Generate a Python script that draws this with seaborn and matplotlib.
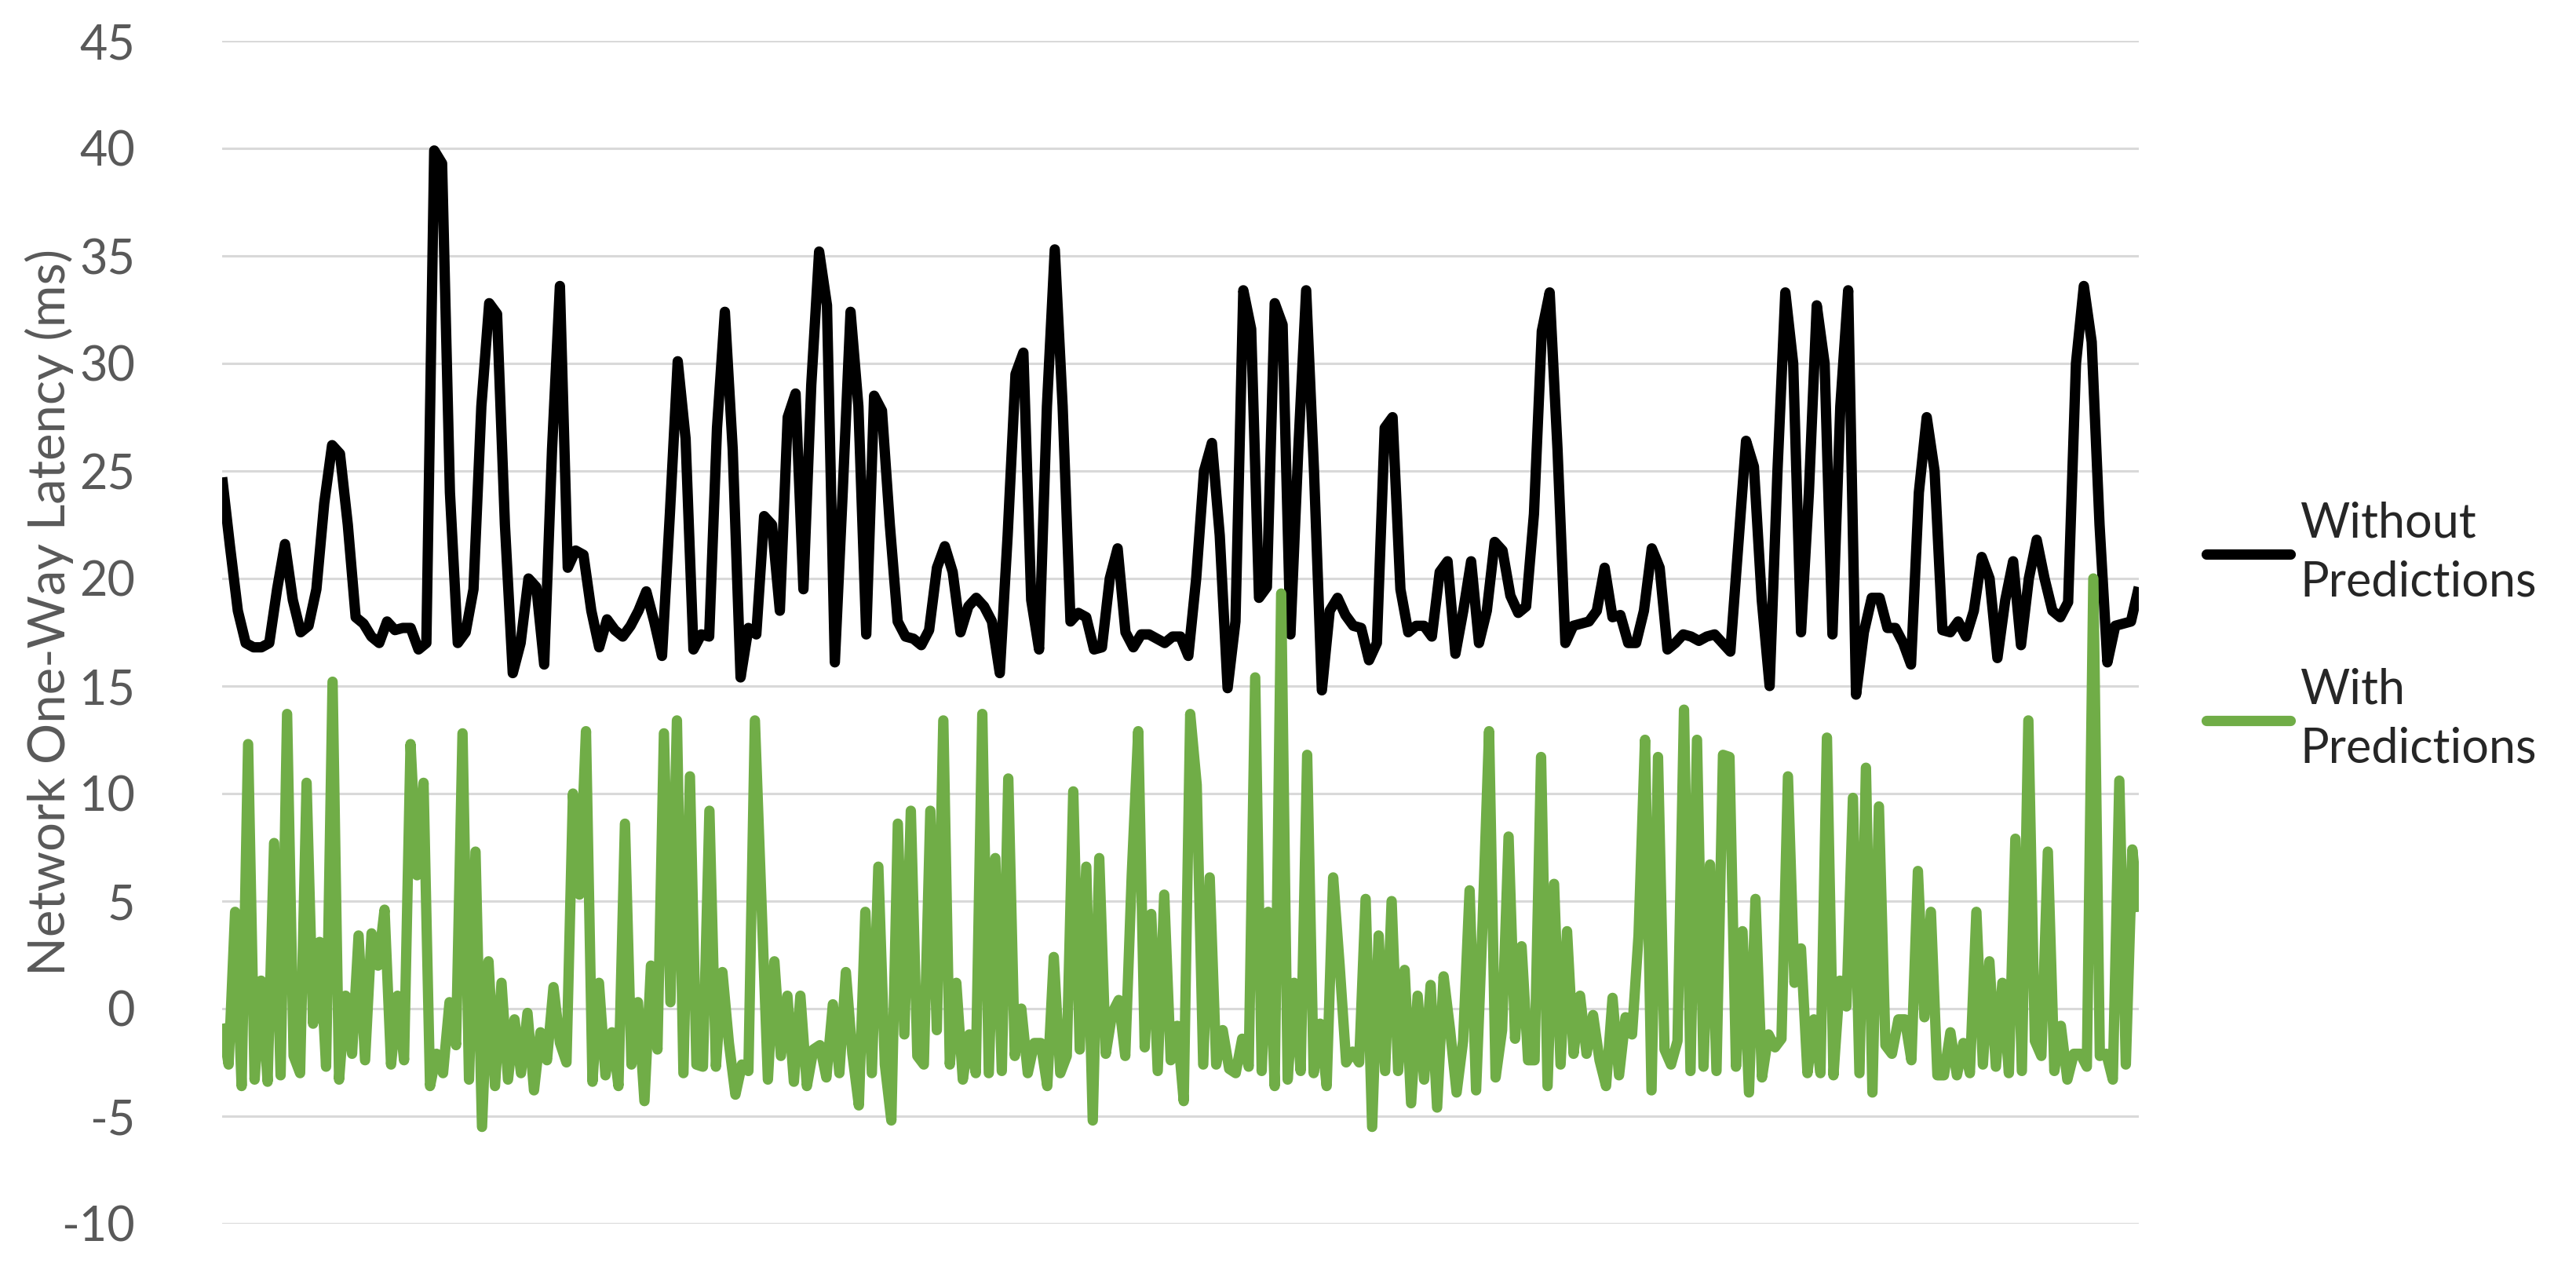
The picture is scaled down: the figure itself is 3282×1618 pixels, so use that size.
import numpy as np
import pandas as pd
import seaborn as sns
import matplotlib.pyplot as plt
from matplotlib.lines import Line2D

# Latency without predictions (ms), read left to right off the chart
without_pred = [
    24.7, 21.5, 18.5, 17.0, 16.8, 16.8, 17.0, 19.5, 21.6, 19.0, 17.5, 17.8, 19.5, 23.5, 26.2, 25.8, 22.5, 18.2, 17.9, 17.3,
    17.0, 18.0, 17.6, 17.7, 17.7, 16.7, 17.0, 39.9, 39.3, 24.0, 17.0, 17.5, 19.5, 28.0, 32.8, 32.3, 22.5, 15.6, 17.0, 20.0,
    19.6,
    16.0, 26.0, 33.6, 20.5, 21.3, 21.1, 18.5, 16.8, 18.1, 17.6, 17.3, 17.8, 18.5, 19.4, 18.0, 16.4, 23.0, 30.1, 26.5, 16.7,
    17.4, 17.3, 27.0, 32.4, 26.0, 15.4, 17.7, 17.4, 22.9, 22.5, 18.5, 27.5, 28.6, 19.5, 29.0, 35.2, 32.7, 16.1, 24.0, 32.4,
    28.0,
    17.4, 28.5, 27.8, 22.5, 18.0, 17.3, 17.2, 16.9, 17.6, 20.5, 21.5, 20.3, 17.5, 18.7, 19.1, 18.7, 18.0, 15.6, 22.0, 29.5,
    30.5, 19.0, 16.7, 28.0, 35.3, 28.0, 18.0, 18.4, 18.2, 16.7, 16.8, 20.0, 21.4, 17.5, 16.8, 17.4, 17.4, 17.2, 17.0, 17.3,
    17.3,
    16.4, 20.0, 25.0, 26.3, 22.0, 14.9, 18.0, 33.4, 31.6, 19.1, 19.6, 32.8, 31.8, 17.4, 26.0, 33.4, 25.0, 14.8, 18.5, 19.1,
    18.3, 17.8, 17.7, 16.2, 17.0, 27.0, 27.5, 19.5, 17.5, 17.8, 17.8, 17.3, 20.3, 20.8, 16.5, 18.5, 20.8, 17.0, 18.5, 21.7,
    21.3,
    19.2, 18.4, 18.7, 23.0, 31.5, 33.3, 26.0, 17.0, 17.8, 17.9, 18.0, 18.5, 20.5, 18.2, 18.3, 17.0, 17.0, 18.5, 21.4, 20.5,
    16.7, 17.0, 17.4, 17.3, 17.1, 17.3, 17.4, 17.0, 16.6, 21.5, 26.4, 25.2, 19.0, 15.0, 25.0, 33.3, 30.0, 17.5, 24.0, 32.7,
    30.0,
    17.4, 28.0, 33.4, 14.6, 17.5, 19.1, 19.1, 17.7, 17.7, 17.0, 16.0, 24.0, 27.5, 25.0, 17.6, 17.5, 18.0, 17.3, 18.5, 21.0,
    20.0, 16.3, 19.0, 20.8, 16.9, 20.0, 21.8, 20.0, 18.5, 18.2, 18.9, 30.0, 33.6, 31.0, 22.5, 16.1, 17.8, 17.9, 18.0, 19.6,
]

# Latency with predictions (ms)
with_pred = [
    -0.7, -2.6, 4.5, -3.6, 12.3, -3.3, 1.3, -3.4, 7.7, -3.1, 13.7, -2.2, -3.0, 10.5, -0.7, 3.1, -2.7, 15.2, -3.3, 0.6,
    -2.1, 3.4, -2.4, 3.5, 2.0, 4.6, -2.6, 0.6, -2.4, 12.3, 6.2, 10.5, -3.6, -2.1, -3.0, 0.3, -1.7, 12.8, -3.3, 7.3,
    -5.5, 2.2, -3.6, 1.2, -3.3, -0.5, -3.0, -0.2, -3.8, -1.1, -2.4,
    1.0, -1.6, -2.5, 10.0, 5.3, 12.9, -3.4, 1.2, -3.1, -1.1, -3.6, 8.6, -2.6, 0.3, -4.3, 2.0, -1.9, 12.8, 0.3, 13.4,
    -3.0, 10.8, -2.6, -2.7, 9.2, -2.7, 1.7, -1.6, -4.0, -2.6, -2.9, 13.4, 5.1, -3.3, 2.2, -2.2, 0.6, -3.4, 0.6, -3.6,
    -1.9, -1.7, -3.2, 0.2, -3.0, 1.7, -2.1, -4.5, 4.5, -3.0,
    6.6, -2.6, -5.2, 8.6, -1.2, 9.2, -2.2, -2.6, 9.2, -1.0, 13.4, -2.6, 1.2, -3.3, -1.2, -3.0, 13.7, -3.0, 7.0, -2.9,
    10.7, -2.2, 0.0, -3.0, -1.6, -1.6, -3.6, 2.4, -3.0, -2.2, 10.1, -1.9, 6.6, -5.2, 7.0, -2.1, -0.2, 0.4, -2.2, 6.2,
    12.9, -1.8, 4.4, -2.9, 5.3, -2.4, -0.8, -4.3, 13.7, 10.4, -2.6,
    6.1, -2.6, -1.0, -2.8, -3.0, -1.4, -2.7, 15.4, -2.9, 4.5, -3.6, 19.3, -3.3, 1.2, -2.9, 11.8, -3.0, -0.7, -3.6, 6.1,
    2.0, -2.5, -2.0, -2.5, 5.1, -5.5, 3.4, -2.9, 5.0, -2.9, 1.8, -4.4, 0.6, -3.3, 1.1, -4.6, 1.5, -1.0, -3.9, -1.5,
    5.5, -3.8, 4.0, 12.9, -3.2, -1.0, 8.0, -1.4,
    2.9, -2.4, -2.4, 11.7, -3.6, 5.8, -2.6, 3.6, -2.1, 0.6, -2.1, -0.3, -2.4, -3.6, 0.5, -3.1, -0.4, -1.2, 3.4, 12.5,
    -3.8, 11.7, -1.9, -2.6, -1.5, 13.9, -2.9, 12.5, -2.7, 6.7, -2.9, 11.8, 11.7, -2.7, 3.6, -3.9, 5.1, -3.2, -1.2, -1.8,
    -1.4, 10.8, 1.2, 2.8, -3.0, -0.5, -3.0, 12.6, -3.1,
    1.3, 0.1, 9.8, -3.0, 11.2, -3.9, 9.4, -1.7, -2.1, -0.5, -0.5, -2.4, 6.4, -0.4, 4.5, -3.1, -3.1, -1.1, -3.1, -1.6,
    -3.0, 4.5, -2.6, 2.2, -2.7, 1.2, -3.0, 7.9, -2.9, 13.4, -1.5, -2.2, 7.3, -2.9, -0.8, -3.3, -2.1, -2.1, -2.7, 20.0,
    -2.2, -2.1, -3.3, 10.6, -2.6, 7.4, 4.5,
]

series_names = ['Without\nPredictions', 'With\nPredictions']
series_colors = ['#000000', '#70AD47']
y_ticks = list(range(-10, 50, 5))
y_label = 'Network One-Way Latency (ms)'

sns.set_theme(style='white')
plt.rcParams['font.family'] = ['Lato', 'DejaVu Sans']
plt.rcParams['axes.unicode_minus'] = False

# both series span the same time window
df = pd.concat([
    pd.DataFrame({'t': np.linspace(0, 1, len(without_pred)), 'latency': without_pred, 'series': series_names[0]}),
    pd.DataFrame({'t': np.linspace(0, 1, len(with_pred)), 'latency': with_pred, 'series': series_names[1]}),
], ignore_index=True)

W, H = 3282, 1618
fig = plt.figure(figsize=(W / 100, H / 100), dpi=100)
ax = fig.add_axes([283 / W, 1 - 1559 / H, (2725 - 283) / W, (1559 - 52) / H])

lw = 9.5
sns.lineplot(data=df, x='t', y='latency', hue='series', palette=series_colors,
             estimator=None, linewidth=lw, legend=False, ax=ax,
             solid_joinstyle='round', solid_capstyle='butt')

ax.set_xlim(0, 1)
ax.set_ylim(-10, 45)
ax.set_yticks(y_ticks)
ax.set_xticks([])
ax.set_xlabel('')
ax.set_ylabel('')
ax.grid(axis='y', color='#D9D9D9', linewidth=2.2)
ax.set_axisbelow(True)
for s in ax.spines.values():
    s.set_visible(False)
ax.tick_params(axis='y', length=0, pad=80, labelsize=44, labelcolor='#595959')

fig.text(63 / W, 0.518, y_label, rotation=90, ha='center', va='center',
         fontsize=47, color='#595959')

handles = [Line2D([], [], color=c, linewidth=lw) for c in series_colors]
leg = fig.legend(handles, series_names, loc='center left', bbox_to_anchor=(2811 / W, 0.499),
                 frameon=False, fontsize=44, handlelength=1.75, handletextpad=0.2,
                 labelspacing=1.3, borderpad=0, borderaxespad=0, labelcolor='#262626')
for t in leg.get_texts():
    t.set_linespacing(1.4)

fig.savefig('out.png', dpi=100)
